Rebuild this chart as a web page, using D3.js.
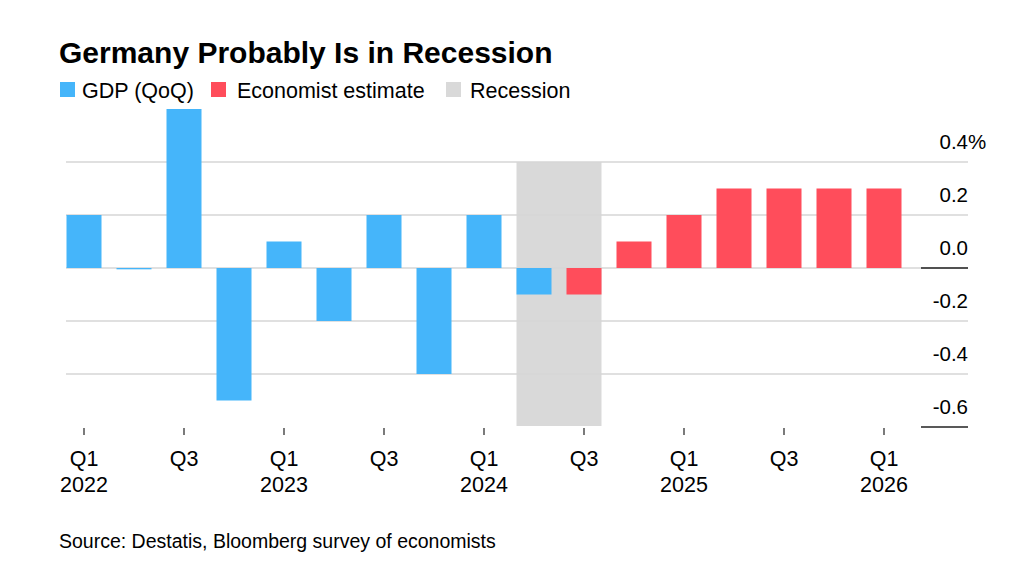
<!DOCTYPE html>
<html><head><meta charset="utf-8">
<script src="https://cdn.jsdelivr.net/npm/d3@7"></script>
<style>body{margin:0;background:#fff;} text{font-family:"Liberation Sans",Arial,sans-serif;fill:#000;}</style>
</head><body>
<svg id="c" width="1030" height="583"></svg>
<script>
const quarters = ["Q1 2022","Q2 2022","Q3 2022","Q4 2022","Q1 2023","Q2 2023","Q3 2023","Q4 2023","Q1 2024","Q2 2024","Q3 2024","Q4 2024","Q1 2025","Q2 2025","Q3 2025","Q4 2025","Q1 2026"];
const values = [0.2,-0.005,0.6,-0.5,0.1,-0.2,0.2,-0.4,0.2,-0.1,-0.1,0.1,0.2,0.3,0.3,0.3,0.3];
const seriesType = ["gdp","gdp","gdp","gdp","gdp","gdp","gdp","gdp","gdp","gdp","est","est","est","est","est","est","est"];
const recession = ["Q2 2024","Q3 2024"];
const yTicks = [0.4,0.2,0.0,-0.2,-0.4,-0.6];
const legendItems = [{label:"GDP (QoQ)",key:"gdp"},{label:"Economist estimate",key:"est"},{label:"Recession",key:"rec"}];
const colors = {gdp:"#45b5fa", est:"#ff4d5b", rec:"#d9d9d9"};

const svg = d3.select("#c");
const x = d3.scaleBand().domain(quarters).range([59,909]).paddingInner(0.3).paddingOuter(0.15);
const y = d3.scaleLinear().domain([-0.6,0.4]).range([427,162]);

// title
svg.append("text").attr("x",59).attr("y",63).attr("font-size",30).attr("font-weight","bold").text("Germany Probably Is in Recession");

// legend
const lx = [60,211,446];
const tx = [82,237,470];
legendItems.forEach((d,i)=>{
  svg.append("rect").attr("x",lx[i]).attr("y",82).attr("width",15).attr("height",15).attr("fill",colors[d.key]);
  svg.append("text").attr("x",tx[i]).attr("y",98).attr("font-size",21.5).text(d.label);
});

// recession shading
svg.append("rect")
  .attr("x",x(recession[0]))
  .attr("width",x(recession[1])+x.bandwidth()-x(recession[0]))
  .attr("y",y(0.4)).attr("height",y(-0.6)-y(0.4)-1)
  .attr("fill",colors.rec);

// gridlines
yTicks.filter(t=>t!==-0.6).forEach(t=>{
  svg.append("line").attr("x1",66).attr("x2",968).attr("y1",y(t)).attr("y2",y(t))
    .attr("stroke","#d6d6d6").attr("stroke-width",1.3);
});

// bars
svg.selectAll("rect.bar").data(quarters).join("rect").attr("class","bar")
  .attr("x",d=>x(d)).attr("width",x.bandwidth())
  .attr("y",(d,i)=>y(Math.max(0,values[i])))
  .attr("height",(d,i)=>Math.max(1,Math.abs(y(values[i])-y(0))))
  .attr("fill",(d,i)=>colors[seriesType[i]]);

// dark baseline stubs
[0,-0.6].forEach(t=>{
  svg.append("line").attr("x1",921).attr("x2",968).attr("y1",y(t)).attr("y2",y(t))
    .attr("stroke","#222").attr("stroke-width",1.3);
});

// y labels
yTicks.forEach((t,i)=>{
  svg.append("text").attr("x",968).attr("y",y(t)-13).attr("text-anchor","end").attr("font-size",20.5)
    .text(d3.format(".1f")(t).replace("−","-"));
  if(i===0) svg.append("text").attr("x",968).attr("y",y(t)-13).attr("font-size",20.5).text("%");
});

// x ticks and labels
quarters.forEach((q,i)=>{
  const [qq,yr] = q.split(" ");
  if(qq!=="Q1" && qq!=="Q3") return;
  const cx = x(q)+x.bandwidth()/2;
  svg.append("line").attr("x1",cx).attr("x2",cx).attr("y1",428).attr("y2",435).attr("stroke","#222").attr("stroke-width",1.2);
  svg.append("text").attr("x",cx).attr("y",466).attr("text-anchor","middle").attr("font-size",21.5).text(qq);
  if(qq==="Q1") svg.append("text").attr("x",cx).attr("y",492).attr("text-anchor","middle").attr("font-size",21.5).text(yr);
});

// source
svg.append("text").attr("x",59).attr("y",548).attr("font-size",19.5).text("Source: Destatis, Bloomberg survey of economists");
</script>
</body></html>
